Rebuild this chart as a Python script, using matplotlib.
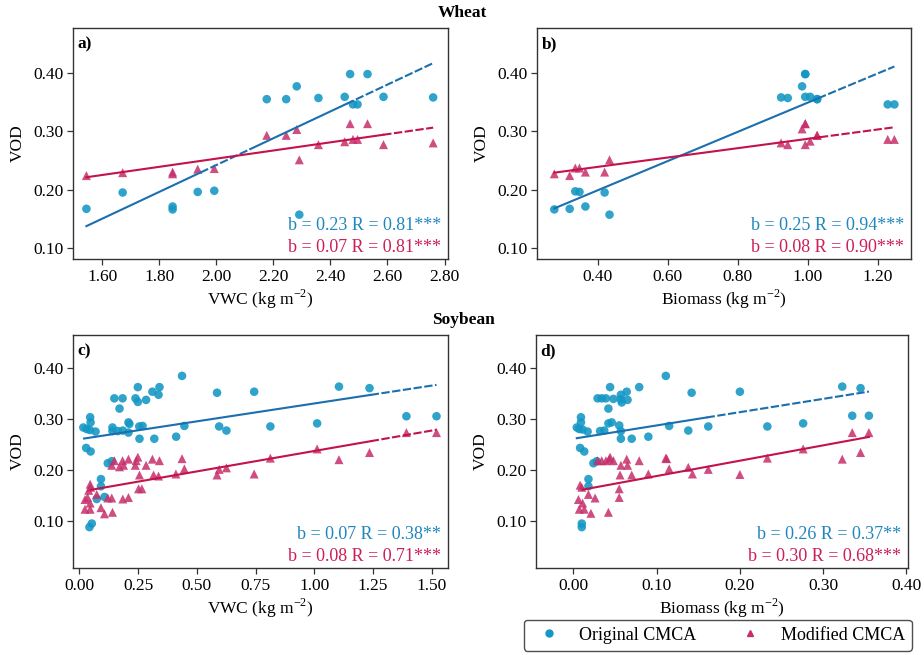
import numpy as np
import matplotlib
matplotlib.use("Agg")
import matplotlib.pyplot as plt
from matplotlib.lines import Line2D

plt.rcParams['font.family'] = ['Liberation Serif', 'DejaVu Serif']
plt.rcParams['mathtext.fontset'] = 'custom'
plt.rcParams['mathtext.rm'] = 'Liberation Serif'

# ---------------- data ----------------
# Wheat, VWC
a_orig_x = [1.545, 1.672, 1.847, 1.847, 1.935, 1.993, 2.177, 2.245, 2.282, 2.291,
            2.358, 2.450, 2.469, 2.479, 2.495, 2.530, 2.586, 2.760]
a_orig_y = [0.167, 0.195, 0.171, 0.166, 0.196, 0.198, 0.355, 0.355, 0.377, 0.157,
            0.357, 0.359, 0.398, 0.346, 0.346, 0.398, 0.359, 0.358]
a_mod_x = a_orig_x
a_mod_y = [0.224, 0.229, 0.230, 0.227, 0.235, 0.236, 0.293, 0.293, 0.303, 0.251,
           0.277, 0.282, 0.313, 0.286, 0.286, 0.313, 0.277, 0.280]

# Wheat, Biomass
b_orig_x = [0.275, 0.319, 0.335, 0.347, 0.364, 0.419, 0.433, 0.924, 0.943, 0.984,
            0.993, 0.993, 0.993, 1.007, 1.027, 1.027, 1.229, 1.248]
b_orig_y = [0.166, 0.167, 0.197, 0.196, 0.171, 0.195, 0.157, 0.358, 0.357, 0.377,
            0.398, 0.398, 0.359, 0.359, 0.355, 0.355, 0.346, 0.346]
b_mod_x = b_orig_x
b_mod_y = [0.227, 0.224, 0.237, 0.237, 0.230, 0.230, 0.251, 0.280, 0.277, 0.304,
           0.313, 0.313, 0.277, 0.283, 0.293, 0.293, 0.286, 0.286]

# Soybean, VWC
c_orig_x = [0.437, 0.586, 0.744, 1.105, 1.235, 1.392, 1.520, 0.447, 0.595, 0.626,
            0.813, 1.012, 0.412, 0.319, 0.256, 0.249, 0.341, 0.311, 0.337, 0.149,
            0.184, 0.239, 0.249, 0.284, 0.171, 0.046, 0.048, 0.017, 0.031, 0.045,
            0.069, 0.141, 0.141, 0.164, 0.185, 0.209, 0.213, 0.209, 0.255, 0.269,
            0.029, 0.048, 0.121, 0.138, 0.092, 0.092, 0.074, 0.107, 0.053, 0.043]
c_orig_y = [0.384, 0.351, 0.353, 0.363, 0.360, 0.305, 0.305, 0.286, 0.285, 0.277,
            0.285, 0.291, 0.265, 0.261, 0.261, 0.362, 0.362, 0.353, 0.347, 0.340,
            0.340, 0.340, 0.333, 0.337, 0.320, 0.303, 0.293, 0.283, 0.280, 0.278,
            0.275, 0.283, 0.276, 0.276, 0.277, 0.293, 0.290, 0.273, 0.285, 0.286,
            0.243, 0.236, 0.213, 0.217, 0.182, 0.168, 0.143, 0.147, 0.095, 0.088]
c_mod_x = [0.437, 0.249, 0.311, 0.341, 0.149, 0.184, 0.209, 0.238, 0.242, 0.138,
           0.171, 0.188, 0.284, 0.447, 0.256, 0.316, 0.337, 0.411, 0.252, 0.266,
           0.046, 0.048, 0.040, 0.074, 0.024, 0.035, 0.046, 0.024, 0.046, 0.092,
           0.107, 0.121, 0.138, 0.141, 0.185, 0.209, 0.586, 0.595, 0.626, 0.744,
           0.813, 1.012, 1.105, 1.235, 1.392, 1.520]
c_mod_y = [0.222, 0.225, 0.221, 0.218, 0.218, 0.218, 0.221, 0.209, 0.218, 0.209,
           0.206, 0.209, 0.209, 0.202, 0.190, 0.190, 0.188, 0.192, 0.163, 0.163,
           0.172, 0.166, 0.160, 0.152, 0.142, 0.146, 0.135, 0.123, 0.123, 0.126,
           0.114, 0.145, 0.145, 0.117, 0.143, 0.146, 0.190, 0.201, 0.204, 0.192,
           0.223, 0.241, 0.220, 0.234, 0.273, 0.273]

# Soybean, Biomass
d_orig_x = [0.111, 0.142, 0.200, 0.323, 0.345, 0.335, 0.355, 0.115, 0.138, 0.162,
            0.233, 0.276, 0.090, 0.070, 0.044, 0.079, 0.064, 0.057, 0.029, 0.034,
            0.039, 0.048, 0.057, 0.065, 0.058, 0.042, 0.009, 0.009, 0.004, 0.007,
            0.011, 0.017, 0.032, 0.037, 0.042, 0.046, 0.055, 0.057, 0.057, 0.008,
            0.013, 0.024, 0.028, 0.018, 0.018, 0.010, 0.010]
d_orig_y = [0.384, 0.351, 0.353, 0.363, 0.360, 0.306, 0.306, 0.286, 0.277, 0.285,
            0.285, 0.291, 0.265, 0.261, 0.362, 0.362, 0.353, 0.347, 0.340, 0.340,
            0.340, 0.339, 0.338, 0.337, 0.332, 0.320, 0.303, 0.293, 0.283, 0.280,
            0.279, 0.275, 0.276, 0.277, 0.291, 0.293, 0.287, 0.276, 0.261, 0.243,
            0.236, 0.213, 0.217, 0.182, 0.168, 0.095, 0.088]
d_mod_x = [0.112, 0.044, 0.079, 0.064, 0.057, 0.029, 0.034, 0.039, 0.048, 0.065,
           0.043, 0.056, 0.070, 0.090, 0.115, 0.143, 0.055, 0.055, 0.008, 0.010,
           0.018, 0.006, 0.011, 0.007, 0.013, 0.021, 0.026, 0.042, 0.162, 0.200,
           0.233, 0.276, 0.323, 0.335, 0.345, 0.355, 0.111, 0.138]
d_mod_y = [0.222, 0.225, 0.218, 0.221, 0.209, 0.218, 0.218, 0.218, 0.218, 0.209,
           0.221, 0.190, 0.190, 0.192, 0.202, 0.192, 0.163, 0.146, 0.170, 0.166,
           0.152, 0.142, 0.135, 0.123, 0.123, 0.115, 0.145, 0.117, 0.201, 0.191,
           0.223, 0.241, 0.221, 0.273, 0.234, 0.273, 0.223, 0.205]

# regression fits: slope b, intercept, correlation R, significance
fit_b = {'a': (0.23, 0.07), 'b': (0.25, 0.08), 'c': (0.07, 0.08), 'd': (0.26, 0.30)}
fit_a = {'a': (-0.218, 0.113), 'b': (0.099, 0.207), 'c': (0.260, 0.157), 'd': (0.261, 0.158)}
fit_r = {'a': (0.81, 0.81), 'b': (0.94, 0.90), 'c': (0.38, 0.71), 'd': (0.37, 0.68)}
fit_sig = {'a': ('***', '***'), 'b': ('***', '***'), 'c': ('**', '***'), 'd': ('**', '***')}

# line extents and dash segments (x breakpoints with style of each segment)
seg_orig = {'a': ([1.545, 1.945, 2.12, 2.455, 2.76], ['-', '--', '-', '--']),
            'b': ([0.275, 1.03, 1.248], ['-', '--']),
            'c': ([0.02, 1.24, 1.52], ['-', '--']),
            'd': ([0.004, 0.16, 0.355], ['-', '--'])}
seg_mod = {'a': ([1.545, 2.585, 2.76], ['-', '--']),
           'b': ([0.275, 1.035, 1.248], ['-', '--']),
           'c': ([0.05, 1.24, 1.52], ['-', '--']),
           'd': ([0.011, 0.355], ['-'])}

xlabels = {'a': 'VWC (kg m$^{-2}$)', 'b': 'Biomass (kg m$^{-2}$)',
           'c': 'VWC (kg m$^{-2}$)', 'd': 'Biomass (kg m$^{-2}$)'}
xlims = {'a': (1.498, 2.812), 'b': (0.2255, 1.2956), 'c': (-0.027, 1.569), 'd': (-0.045, 0.402)}
ylims = {'a': (0.081, 0.477), 'b': (0.081, 0.477), 'c': (0.008, 0.464), 'd': (0.008, 0.464)}
xticks = {'a': [1.6, 1.8, 2.0, 2.2, 2.4, 2.6, 2.8], 'b': [0.4, 0.6, 0.8, 1.0, 1.2],
          'c': [0.0, 0.25, 0.5, 0.75, 1.0, 1.25, 1.5], 'd': [0.0, 0.1, 0.2, 0.3, 0.4]}
yticks = [0.1, 0.2, 0.3, 0.4]

data = {'a': (a_orig_x, a_orig_y, a_mod_x, a_mod_y),
        'b': (b_orig_x, b_orig_y, b_mod_x, b_mod_y),
        'c': (c_orig_x, c_orig_y, c_mod_x, c_mod_y),
        'd': (d_orig_x, d_orig_y, d_mod_x, d_mod_y)}

# ---------------- style ----------------
W, H = 924, 655
boxes = {'a': (73, 448, 28, 259), 'b': (537, 911, 28, 259),
         'c': (73, 448, 335, 568), 'd': (536, 908, 335, 568)}
c_orig_mk = '#1397c4'
c_mod_mk = '#c72f6c'
c_orig_ln = '#1b6fae'
c_mod_ln = '#c3124c'
c_orig_tx = '#1f86be'
c_mod_tx = '#cc1f55'
spine_col = '#333333'

fig = plt.figure(figsize=(W / 100, H / 100), dpi=100)

for key, (l, r, t, b) in boxes.items():
    ax = fig.add_axes([l / W, 1 - b / H, (r - l) / W, (b - t) / H])
    ox, oy, mx, my = data[key]
    ax.scatter(ox, oy, s=38, marker='o', color=c_orig_mk, alpha=0.88,
               edgecolors='none', zorder=3)
    ax.scatter(mx, my, s=42, marker='^', color=c_mod_mk, alpha=0.85,
               edgecolors='none', zorder=3)
    for (bb, aa, col, seg) in [(fit_b[key][0], fit_a[key][0], c_orig_ln, seg_orig[key]),
                               (fit_b[key][1], fit_a[key][1], c_mod_ln, seg_mod[key])]:
        xs, styles = seg
        for i, st in enumerate(styles):
            xx = np.array([xs[i], xs[i + 1]])
            ax.plot(xx, aa + bb * xx, color=col, lw=1.5, ls=st, zorder=4,
                    dashes=(4, 1.2) if st == '--' else (None, None))
    ax.set_xlim(*xlims[key])
    ax.set_ylim(*ylims[key])
    ax.set_xticks(xticks[key])
    ax.set_xticklabels(['{:.2f}'.format(v) for v in xticks[key]])
    ax.set_yticks(yticks)
    ax.set_yticklabels(['{:.2f}'.format(v) for v in yticks])
    ax.tick_params(axis='both', labelsize=12.5, length=4, width=0.9,
                   color=spine_col, direction='out', pad=3)
    for sp in ax.spines.values():
        sp.set_color(spine_col)
        sp.set_linewidth(1.0)
    ax.set_xlabel(xlabels[key], fontsize=12.5, labelpad=2)
    ax.set_ylabel('VOD', fontsize=12.5, labelpad=5)
    ax.text(0.012, 0.965, key + ')', transform=ax.transAxes, fontsize=12.5,
            fontweight='bold', ha='left', va='top')
    ax.text(0.981, 0.145,
            'b = {:.2f} R = {:.2f}{}'.format(fit_b[key][0], fit_r[key][0], fit_sig[key][0]),
            transform=ax.transAxes, color=c_orig_tx, fontsize=13, ha='right', va='center')
    ax.text(0.981, 0.048,
            'b = {:.2f} R = {:.2f}{}'.format(fit_b[key][1], fit_r[key][1], fit_sig[key][1]),
            transform=ax.transAxes, color=c_mod_tx, fontsize=13, ha='right', va='center')

fig.text(462 / W, 1 - 13 / H, 'Wheat', fontsize=12.5, fontweight='bold',
         ha='center', va='center')
fig.text(463 / W, 1 - 320 / H, 'Soybean', fontsize=12.5, fontweight='bold',
         ha='center', va='center')

handles = [Line2D([], [], marker='o', ls='none', color=c_orig_mk, markersize=5),
           Line2D([], [], marker='^', ls='none', color=c_mod_mk, markersize=5)]
leg = fig.legend(handles, ['Original CMCA', 'Modified CMCA'], ncol=2,
                 loc='lower right', bbox_to_anchor=(912 / W, 1 - 651 / H),
                 borderaxespad=0.0, fontsize=13, frameon=True, fancybox=True,
                 edgecolor='#222222', handletextpad=0.67, columnspacing=2.0,
                 borderpad=0.4, handlelength=2.0)
leg.get_frame().set_linewidth(1.0)

fig.savefig('out.png', dpi=100)
